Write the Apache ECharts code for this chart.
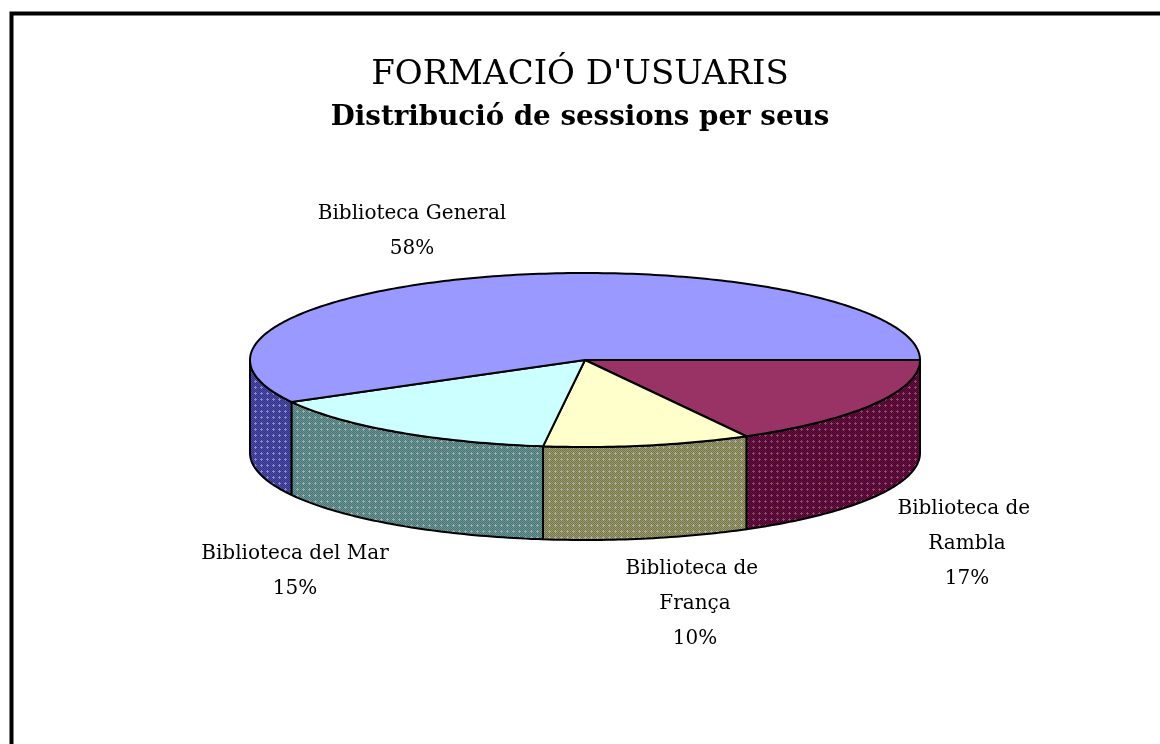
<!DOCTYPE html>
<html>
<head>
<meta charset="utf-8">
<script src="https://cdn.jsdelivr.net/npm/echarts@6/dist/echarts.min.js"></script>
<style>
html,body{margin:0;padding:0;background:#fff;}
#chart{width:1160px;height:744px;}
</style>
</head>
<body>
<div id="chart"></div>
<script>
// ---- data ----
const titleText = "FORMACIÓ D'USUARIS";
const subtitleText = "Distribució de sessions per seus";
const categories = ["Biblioteca de Rambla", "Biblioteca de França", "Biblioteca del Mar", "Biblioteca General"];
const values = [17, 10, 15, 58];

// ---- styles / layout (not data) ----
const topColors = ["#993366", "#FFFFCC", "#CCFFFF", "#9999FF"];
const sideColors = [
  ["#66103c", "#4a0030", "#8a4a6a"],
  ["#9a9a6a", "#76764c", "#b0b0a0"],
  ["#669696", "#4c7474", "#9cb0b0"],
  ["#4c4ca8", "#33338a", "#8a8ac8"]
];
const pie = { cx: 585, cy: 360, rx: 335, ry: 87, depth: 93 };
const labelLayout = [
  { x: 967, y: 544, width: 160 },
  { x: 695, y: 604, width: 160 },
  { x: 295, y: 571, width: 280 },
  { x: 412, y: 231, width: 280 }
];

function makePattern(c) {
  const cv = document.createElement('canvas');
  cv.width = 6; cv.height = 6;
  const ctx = cv.getContext('2d');
  ctx.fillStyle = c[0];
  ctx.fillRect(0, 0, 6, 6);
  ctx.fillStyle = c[1];
  for (let y = 0; y < 6; y++) for (let x = 0; x < 6; x++) if ((x + y) % 2 === 0) ctx.fillRect(x, y, 1, 1);
  ctx.fillStyle = c[2];
  ctx.fillRect(3, 2, 1, 3);
  ctx.fillRect(2, 3, 3, 1);
  return { image: cv, repeat: 'repeat' };
}
const sidePatterns = sideColors.map(makePattern);

const total = values.reduce((a, b) => a + b, 0);
const starts = [];
let acc = 0;
values.forEach(v => { starts.push(acc / total * 360); acc += v; });

function pt(deg, dy) {
  const r = deg * Math.PI / 180;
  return [pie.cx + pie.rx * Math.cos(r), pie.cy + pie.ry * Math.sin(r) + (dy || 0)];
}
function arc(a, b, dy) {
  const pts = [];
  const n = Math.max(2, Math.ceil(Math.abs(b - a)));
  for (let i = 0; i <= n; i++) pts.push(pt(a + (b - a) * i / n, dy));
  return pts;
}

const chart = echarts.init(document.getElementById('chart'), null, { renderer: 'canvas' });

chart.setOption({
  backgroundColor: '#ffffff',
  animation: false,
  title: {
    text: titleText,
    subtext: subtitleText,
    left: 'center',
    top: 53,
    itemGap: 12,
    textStyle: { fontFamily: 'DejaVu Serif', fontWeight: 'normal', fontSize: 34, color: '#000' },
    subtextStyle: { fontFamily: 'DejaVu Serif', fontWeight: 'bold', fontSize: 27.7, color: '#000' }
  },
  graphic: [{
    type: 'rect',
    shape: { x: 11.5, y: 13.5, width: 1300, height: 900 },
    style: { fill: 'none', stroke: '#000', lineWidth: 4 },
    silent: true
  }],
  series: [{
    type: 'custom',
    coordinateSystem: 'none',
    data: values.map((v, i) => ({ name: categories[i], value: v })),
    renderItem: function (params, api) {
      const i = params.dataIndex;
      const v = api.value(0);
      const a = starts[i];
      const b = a + v / total * 360;
      const children = [];
      // visible front side: angles [0,180] and [360,540]
      [[0, 180], [360, 540]].forEach(([lo, hi]) => {
        const s = Math.max(a, lo), e = Math.min(b, hi);
        if (e > s) {
          const top = arc(s, e, 0);
          const bot = arc(e, s, pie.depth);
          children.push({
            type: 'polygon',
            shape: { points: top.concat(bot) },
            style: { fill: sidePatterns[i], stroke: '#000', lineWidth: 2, lineJoin: 'round' },
            z2: 1
          });
        }
      });
      const topPts = [[pie.cx, pie.cy]].concat(arc(a, b, 0));
      children.push({
        type: 'polygon',
        shape: { points: topPts },
        style: { fill: topColors[i], stroke: '#000', lineWidth: 2, lineJoin: 'round' },
        z2: 2
      });
      const pct = Math.round(v / total * 100) + '%';
      const L = labelLayout[i];
      children.push({
        type: 'text',
        style: {
          text: categories[i] + '\n' + pct,
          x: L.x, y: L.y,
          width: L.width,
          overflow: 'break',
          align: 'center',
          verticalAlign: 'middle',
          fontFamily: 'DejaVu Serif',
          fontSize: 20,
          lineHeight: 35,
          fill: '#000'
        },
        z2: 3
      });
      return { type: 'group', children: children };
    }
  }]
});
</script>
</body>
</html>
